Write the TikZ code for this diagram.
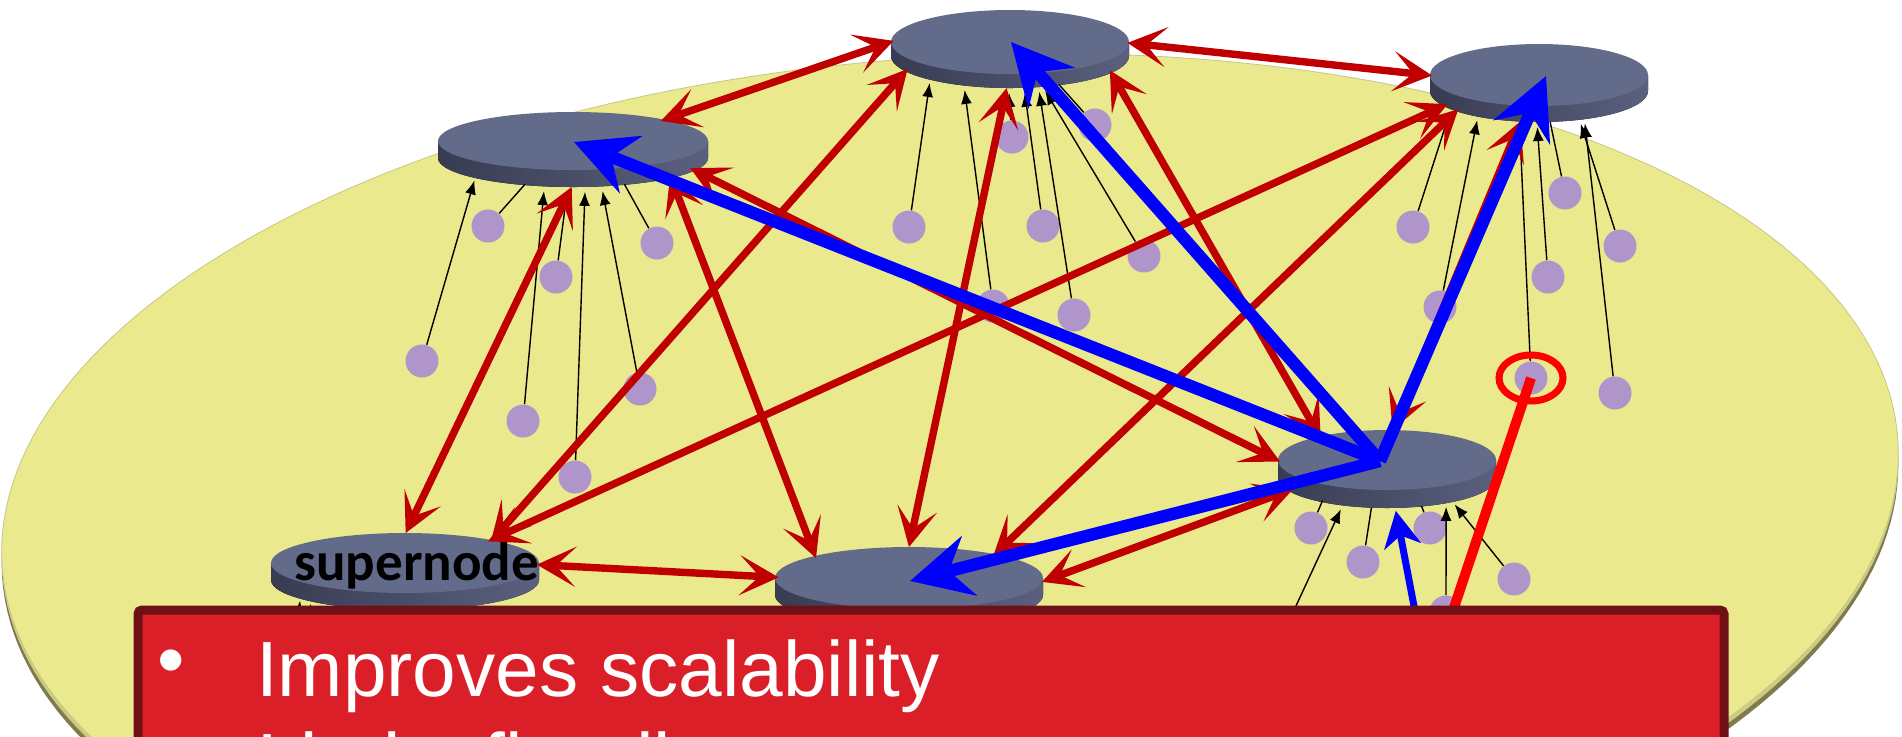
\documentclass[tikz,border=0pt]{standalone}
\usepackage{fontspec}
\setmainfont{Liberation Sans}
\newfontfamily\snfont{Carlito}
\usetikzlibrary{arrows.meta,shapes.geometric}

\definecolor{discyellow}{RGB}{234,233,141}
\definecolor{discedge}{RGB}{200,198,135}
\definecolor{rimlight}{RGB}{206,204,128}
\definecolor{rimdark}{RGB}{126,124,78}
\definecolor{peerfill}{RGB}{176,149,202}
\definecolor{sntop}{RGB}{99,107,139}
\definecolor{snsideL}{RGB}{56,60,82}
\definecolor{snsideR}{RGB}{90,96,126}
\definecolor{linkred}{RGB}{192,0,0}
\definecolor{pathblue}{RGB}{0,0,255}
\definecolor{hotred}{RGB}{255,0,0}
\definecolor{panelfill}{RGB}{218,31,40}
\definecolor{panelrim}{RGB}{110,16,22}

\tikzset{
  % 3D cylinder: #1 = x radius, #2 = y radius, #3 = thickness (pixel units)
  pics/snstack/.style n args={3}{code={
    \fill[left color=snsideL, right color=snsideR]
      (-#1,0) -- (-#1,#3) arc[start angle=180, end angle=0, x radius=#1, y radius=#2] -- (#1,0) -- cycle;
    \fill[sntop] (0,0) ellipse[x radius=#1, y radius=#2];
  }},
  snode/.style={shape=ellipse, inner sep=0pt, outer sep=0pt},
  peer/.style={circle, fill=peerfill, inner sep=0pt, minimum size=16.5pt},
  member/.style={line width=0.7pt, >={Latex[length=7pt,width=5.5pt]}, ->, shorten >=2.5pt},
  tether/.style={line width=0.7pt},
  link/.style={draw=linkred, line width=3.7pt, >={Stealth[length=19.5pt,width=20pt,inset=10pt]}, <->},
  query/.style={draw=pathblue, line width=6.2pt, >={Stealth[length=30.5pt,width=30.5pt,inset=10.5pt]}, ->},
  smallquery/.style={draw=pathblue, line width=3.5pt, >={Stealth[length=18pt,width=18.5pt,inset=5.5pt]}, ->, shorten >=1.5pt},
  panel/.style={draw=panelrim, line width=4.5pt, fill=panelfill, rounded corners=2pt, inner sep=0pt},
  paneltext/.style={text=white, inner sep=0pt, font=\fontsize{39.2}{47}\selectfont},
}

\begin{document}
\begin{tikzpicture}[x=0.5pt,y=-0.5pt]
\useasboundingbox (0,0) rectangle (1902,736);
\clip (0,0) rectangle (1902,736);

% the tilted table-top disc (an ellipse turned a little, right side up) with its rim
\fill[rimdark] plot[domain=0:360, samples=241]
  ({950 + 947.9*cos(\x) - 29.56*sin(\x)}, {514 - 62.96*cos(\x) - 445.0*sin(\x)}) -- cycle;
\fill[rimlight] plot[domain=0:360, samples=241]
  ({950 + 947.9*cos(\x) - 29.56*sin(\x)}, {508 - 62.96*cos(\x) - 445.0*sin(\x)}) -- cycle;
\filldraw[fill=discyellow, draw=discedge, line width=0.4pt] plot[domain=0:360, samples=241]
  ({950 + 947.9*cos(\x) - 29.56*sin(\x)}, {503 - 62.96*cos(\x) - 445.0*sin(\x)}) -- cycle;

% supernode cylinders
\pic at (573,141) {snstack={135}{29}{17}};
\pic at (1010,42) {snstack={119}{32}{14}};
\pic at (1539,75) {snstack={109}{31}{16}};
\pic at (1387,460) {snstack={109}{30}{18}};
\pic at (405,563) {snstack={134}{30}{17}};
\pic at (909,578) {snstack={134}{31}{17}};

% supernode outlines used as connector targets
\node[snode, minimum width=135pt, minimum height=37.5pt] (A) at (573,149.5) {};
\node[snode, minimum width=119pt, minimum height=39pt] (B) at (1010,49) {};
\node[snode, minimum width=109pt, minimum height=39pt] (C) at (1539,83) {};
\node[snode, minimum width=109pt, minimum height=39pt] (D) at (1387,469) {};
\node[snode, minimum width=134pt, minimum height=38.5pt] (E) at (405,571.5) {};
\node[snode, minimum width=134pt, minimum height=39.5pt] (F) at (909,586.5) {};

% centres of the top faces
\coordinate (Atop) at (574,142);
\coordinate (Btop) at (1011,42);
\coordinate (Ctop) at (1546,76);
\coordinate (Ftop) at (910,581);
\coordinate (hub) at (1380,461);

% ordinary peers
\node[peer] (p1) at (422,361) {};
\node[peer] (p2) at (488,226) {};
\node[peer] (p3) at (556,277) {};
\node[peer] (p4) at (523,421) {};
\node[peer] (p5) at (575,477) {};
\node[peer] (p6) at (640,389) {};
\node[peer] (p7) at (657,243) {};
\node[peer] (p8) at (909,227) {};
\node[peer] (p9) at (1012,137) {};
\node[peer] (p10) at (1043,226) {};
\node[peer] (p11) at (1095,125) {};
\node[peer] (p12) at (1144,256) {};
\node[peer] (p13) at (993,306) {};
\node[peer] (p14) at (1074,315) {};
\node[peer] (p15) at (1413,227) {};
\node[peer] (p16) at (1440,307) {};
\node[peer] (p17) at (1565,193) {};
\node[peer] (p18) at (1620,246) {};
\node[peer] (p19) at (1548,277) {};
\node[peer] (p20) at (1531,378) {};
\node[peer] (p21) at (1615,393) {};
\node[peer] (p22) at (1311,528) {};
\node[peer] (p23) at (1363,562) {};
\node[peer] (p24) at (1430,528) {};
\node[peer] (p25) at (1514,579) {};
\node[peer] (p26) at (1446,612) {};

% loose ends below the panel
\coordinate (lowD) at (1257,690);
\coordinate (lowE1) at (290,700);
\coordinate (lowE2) at (318,700);
\coordinate (lowQ) at (1430,690);
\coordinate (lowR) at (1423,700);

% peers attached to their supernodes
\draw[member] (p1) -- (A.-165);
\draw[tether] (p2) -- (A.-144);
\draw[member] (p3) -- (A.-98);
\draw[member] (p4) -- (A.-128);
\draw[member] (p5) -- (A.-72);
\draw[member] (p6) -- (A.-52);
\draw[tether] (p7) -- (A.-34);

\draw[member] (p8) -- (B.-160);
\draw[member] (p9) -- (B.-92);
\draw[member] (p10) -- (B.-70);
\draw[tether] (p11) -- (B.-36);
\draw[member] (p12) -- (B.-49);
\draw[member] (p13) -- (B.-142);
\draw[member] (p14) -- (B.-53);

\draw[member] (p15) -- (C.-165);
\draw[member] (p16) -- (C.-152);
\draw[tether] (p17) -- (C.-74);
\draw[member] (p18) -- (C.-42);
\draw[member] (p19) -- (C.-93);
\draw[member] (p20) -- (C.-117);
\draw[member] (p21) -- (C.-38);

\draw[tether] (p22) -- (D.-154);
\draw[member] (lowD) -- (D.-141);
\draw[tether] (p23) -- (D.-112);
\draw[tether] (p24) -- (D.-47);
\draw[member] (p26) -- (D.-29);
\draw[member] (p25) -- (D.-26);

\draw[member] (lowE1) -- (E.-167);
\draw[member] (lowE2) -- (E.-164);

% label on the lower-left supernode
\node[anchor=base west, inner sep=0pt, font=\snfont\bfseries\fontsize{27.5}{30}\selectfont] (snlabel) at (294,580) {supernode};

% overlay links between supernodes
\draw[link] (A.18.5) -- (B.176.6);
\draw[link] (B.3.4) -- (C.176.3);
\draw[link] (A.-92) -- (E.89);
\draw[link] (A.-15) -- (F.163);
\draw[link] (A.-9) -- (D.176);
\draw[link] (B.191) -- (E.19);
\draw[link] (B.-95) -- (F.90);
\draw[link] (B.-12) -- (D.155);
\draw[link] (C.193.6) -- (E.20.5);
\draw[link] (C.198) -- (F.20);
\draw[link] (C.244) -- (D.82);
\draw[link] (D.192.4) -- (F.2.8);
\draw[link] (E.3.6) -- (F.176.8);

% query forwarded through the overlay
\draw[smallquery] (lowQ) -- (D.-78);
\draw[query] (hub) -- (Atop);
\draw[query] (hub) -- (Btop);
\draw[query] (hub) -- (Ctop);
\draw[query] (hub) -- (Ftop);

% the peer holding the file and its reply
\draw[hotred, line width=3.5pt] (p20.center) ellipse[x radius=32, y radius=23];
\draw[hotred, line width=5pt] (p20.center) -- (lowR);

% caption panel
\node[panel, minimum width=793pt, minimum height=95pt] (box) at (931,705) {};
\node[paneltext] (dot1) at (171,668) {\textbullet};
\node[paneltext, anchor=base west] (line1) at (255.6,696) {Improves scalability};
\node[paneltext, anchor=base west] (line2) at (257,788) {Limits flooding};
\end{tikzpicture}
\end{document}
